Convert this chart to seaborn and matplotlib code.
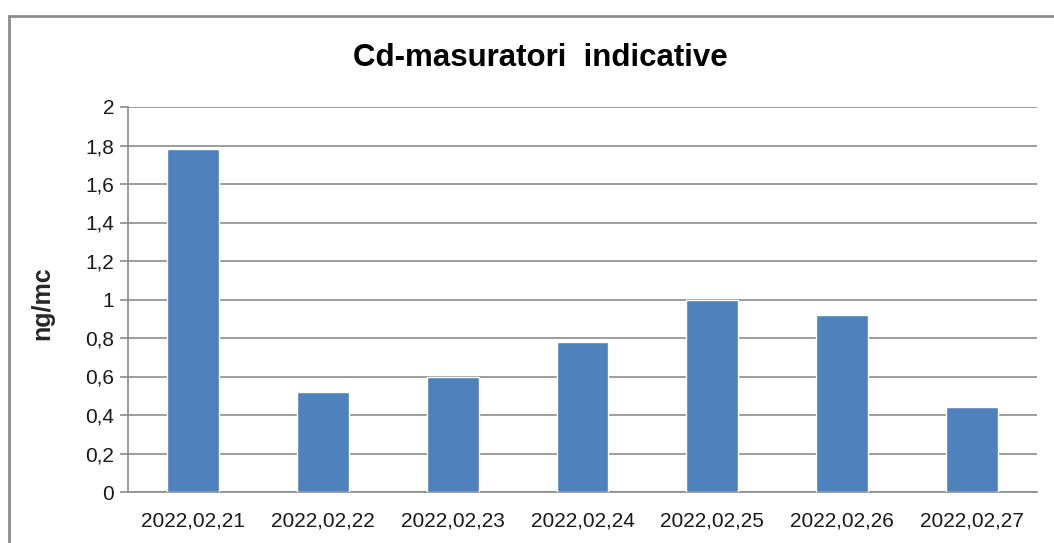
import matplotlib
matplotlib.use("Agg")
import matplotlib.pyplot as plt
import seaborn as sns
import pandas as pd
from matplotlib.lines import Line2D
from matplotlib.ticker import FuncFormatter

# --- DATA ---
dates = ["2022,02,21", "2022,02,22", "2022,02,23", "2022,02,24",
         "2022,02,25", "2022,02,26", "2022,02,27"]
cd_values = [1.78, 0.52, 0.60, 0.78, 1.00, 0.92, 0.44]
y_ticks = [0, 0.2, 0.4, 0.6, 0.8, 1.0, 1.2, 1.4, 1.6, 1.8, 2.0]

df = pd.DataFrame({"data": dates, "cd": cd_values})

sns.set_theme(style="white")
plt.rcParams['font.family'] = ['Liberation Sans', 'DejaVu Sans']

fig = plt.figure(figsize=(10.54, 5.43), dpi=100)
ax = fig.add_axes([128 / 1054, 51 / 543, (1037 - 128) / 1054, (492 - 107) / 543])

sns.barplot(data=df, x="data", y="cd", color="#4F81BD", saturation=1,
            width=0.4, ax=ax, zorder=3)

ax.set_ylim(0, 2)
ax.set_yticks(y_ticks)
ax.yaxis.set_major_formatter(FuncFormatter(lambda v, p: f"{v:g}".replace(".", ",")))
ax.yaxis.grid(True, color="#8c8c8c", linewidth=1.2, zorder=0)
ax.xaxis.grid(False)

for side in ["top", "right"]:
    ax.spines[side].set_visible(False)
for side in ["left", "bottom"]:
    ax.spines[side].set_color("#8c8c8c")
    ax.spines[side].set_linewidth(1.2)

ax.tick_params(axis="y", which="major", left=True, length=6, width=1.2,
               color="#8c8c8c", labelsize=15, labelcolor="#1a1a1a", pad=4)
ax.tick_params(axis="x", bottom=False, labelsize=15, labelcolor="#1a1a1a", pad=8)

ax.set_xlabel("")
ax.set_ylabel("ng/mc", fontsize=18, fontweight="bold")
ax.yaxis.set_label_coords(-74 / 909, 0.49)

fig.text(540 / 1054, 1 - 58 / 543, "Cd-masuratori  indicative", ha="center", va="center",
         fontsize=22.5, fontweight="bold", color="#000000")

# chart border (top and left visible in the crop)
fig.add_artist(Line2D([9 / 1054, 9 / 1054], [0, 1 - 16 / 543], transform=fig.transFigure,
                      color="#8c8c8c", linewidth=2))
fig.add_artist(Line2D([9 / 1054, 1], [1 - 16 / 543, 1 - 16 / 543], transform=fig.transFigure,
                      color="#8c8c8c", linewidth=2))

fig.savefig("out.png", dpi=100)
